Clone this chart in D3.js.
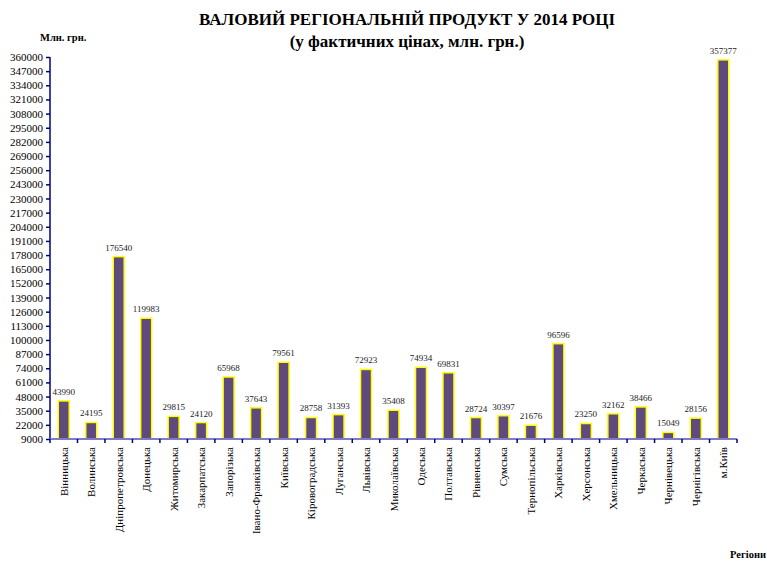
<!DOCTYPE html>
<html><head><meta charset="utf-8">
<script src="https://cdn.jsdelivr.net/npm/d3@7"></script>
<style>body{margin:0;background:#fff}svg{display:block}svg text{font-family:"Liberation Serif","DejaVu Serif",serif}</style>
</head><body>
<svg id="c" width="767" height="561"></svg>
<script>
const categories = ["Вінницька","Волинська","Дніпропетровська","Донецька","Житомирська","Закарпатська","Запорізька","Івано-Франківська","Київська","Кіровоградська","Луганська","Львівська","Миколаївська","Одеська","Полтавська","Рівненська","Сумська","Тернопільська","Харківська","Херсонська","Хмельницька","Черкаська","Чернівецька","Чернігівська","м.Київ"];
const values = [43990,24195,176540,119983,29815,24120,65968,37643,79561,28758,31393,72923,35408,74934,69831,28724,30397,21676,96596,23250,32162,38466,15049,28156,357377];
const yTicks = d3.range(9000, 360001, 13000);

const svg = d3.select("#c");
const x0 = 50, x1 = 737, yTop = 57, yBot = 439;
const x = d3.scaleBand().domain(categories).range([x0, x1]).paddingInner(0.6).paddingOuter(0.3);
const y = d3.scaleLinear().domain([9000, 360000]).range([yBot, yTop]);

// title
svg.append("text").attr("x", 407).attr("y", 25).attr("text-anchor","middle")
  .attr("font-weight","bold").attr("font-size", 17)
  .text("ВАЛОВИЙ РЕГІОНАЛЬНІЙ ПРОДУКТ У 2014 РОЦІ");
svg.append("text").attr("x", 407).attr("y", 47).attr("text-anchor","middle")
  .attr("font-weight","bold").attr("font-size", 17)
  .text("(у фактичних цінах, млн. грн.)");
svg.append("text").attr("x", 40).attr("y", 41)
  .attr("font-weight","bold").attr("font-size", 10.5)
  .text("Млн. грн.");
svg.append("text").attr("x", 766).attr("y", 558).attr("text-anchor","end")
  .attr("font-weight","bold").attr("font-size", 10.5)
  .text("Регіони");

// y axis
const ya = svg.append("g").attr("transform", `translate(${x0},0)`)
  .call(d3.axisLeft(y).tickValues(yTicks).tickFormat(d3.format("d")).tickSize(4).tickPadding(3));
ya.attr("font-family", null);
ya.select(".domain").attr("stroke", "#000080").attr("stroke-width", 1.5).attr("d", `M0,${yTop}V${yBot}`);
ya.selectAll(".tick line").attr("stroke", "#000080").attr("stroke-width", 1.5);
ya.selectAll(".tick text").attr("font-size", 11).attr("fill", "#000");

// bars
svg.append("g").selectAll("rect").data(values).join("rect")
  .attr("x", (d,i) => x(categories[i]))
  .attr("y", d => y(d))
  .attr("width", x.bandwidth())
  .attr("height", d => y(9000) - y(d))
  .attr("fill", "#5E4A7C")
  .attr("stroke", "#FFFF00").attr("stroke-width", 1.5);

// value labels
svg.append("g").selectAll("text").data(values).join("text")
  .attr("x", (d,i) => x(categories[i]) + x.bandwidth()/2)
  .attr("y", d => y(d) - 6)
  .attr("text-anchor","middle")
  .attr("font-size", 9).attr("fill", "#222")
  .text(d => d);

// x axis
const step = (x1 - x0) / categories.length;
const xg = svg.append("g");
xg.append("line").attr("x1", x0).attr("x2", x1).attr("y1", yBot).attr("y2", yBot)
  .attr("stroke", "#7B7BC8").attr("stroke-width", 2);
xg.selectAll("line.t").data(d3.range(categories.length + 1)).join("line").attr("class","t")
  .attr("x1", i => x0 + i*step).attr("x2", i => x0 + i*step)
  .attr("y1", yBot).attr("y2", yBot + 4)
  .attr("stroke", "#000080").attr("stroke-width", 1.5);
xg.selectAll("text").data(categories).join("text")
  .attr("transform", d => `translate(${x(d) + x.bandwidth()/2 + 4},${yBot + 8}) rotate(-90)`)
  .attr("text-anchor","end")
  .attr("font-size", 11).attr("fill", "#000")
  .text(d => d);
</script>
</body></html>
